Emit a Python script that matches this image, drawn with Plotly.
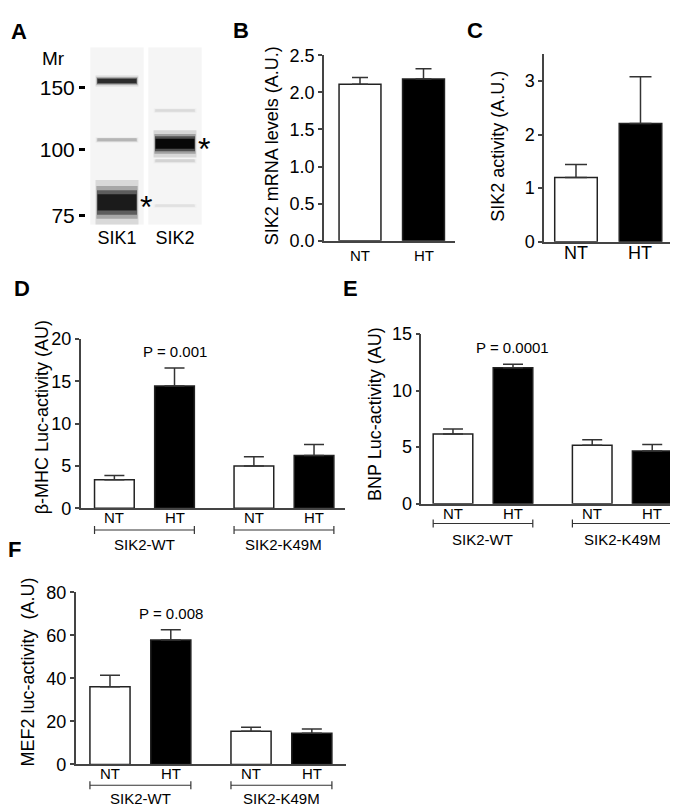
import plotly.graph_objects as go

W, H = 678, 809
FONT = 'Liberation Sans, Arial, sans-serif'

# ---- panel A: western blot (relative migration, 0 = top of lane) ----
lanes = ['SIK1', 'SIK2']
ladder_mr = [150, 100, 75]
ladder_rf = [0.229, 0.577, 0.949]
band_lane = [1, 1, 1, 2, 2, 2, 2]
band_rf = [0.19, 0.522, 0.874, 0.357, 0.544, 0.641, 0.894]
band_thick = [0.028, 0.014, 0.115, 0.012, 0.07, 0.012, 0.01]
band_dark = [0.85, 0.3, 0.92, 0.15, 1.0, 0.18, 0.12]
star_bands = [2, 4]

# ---- panels B, C ----
conds = ['NT', 'HT']
mrna_mean = [2.11, 2.18]
mrna_err = [0.09, 0.14]
act_mean = [1.2, 2.21]
act_err = [0.24, 0.87]

# ---- panels D, E, F ----
groups = ['SIK2-WT', 'SIK2-K49M']
bmhc_mean = [3.38, 14.46, 5.0, 6.23]
bmhc_err = [0.5, 2.14, 1.08, 1.31]
bnp_mean = [6.15, 12.01, 5.17, 4.66]
bnp_err = [0.46, 0.32, 0.49, 0.57]
mef2_mean = [36.1, 57.9, 15.45, 14.5]
mef2_err = [5.4, 4.7, 1.85, 2.0]
p_labels = ['P = 0.001', 'P = 0.0001', 'P = 0.008']


def px_x(v):
    return v / W


def px_y(v):
    return 1 - v / H


def xdom(a, b):
    return [px_x(a), px_x(b)]


def ydom(top, bottom):
    return [px_y(bottom), px_y(top)]


def shade(d):
    v = round(255 * (1 - d))
    return f'rgb({v},{v},{v})'


AXC = '#444'
BAR_W = 0.66
STEP = 2.32

fig = go.Figure()
layout = dict(
    width=W, height=H, margin=dict(l=0, r=0, t=0, b=0),
    plot_bgcolor='white', paper_bgcolor='white', showlegend=False,
    barmode='overlay', font=dict(family=FONT, color='black'),
)
annotations = []
shapes = []


def note(text, x, y, size, angle=0):
    annotations.append(dict(x=px_x(x), y=px_y(y), xref='paper', yref='paper',
                            text=text, textangle=angle, showarrow=False,
                            xanchor='center', yanchor='middle',
                            font=dict(size=size)))


# ---------- A ----------
fig.add_trace(go.Bar(x=[1, 2], y=[1, 1], base=[0, 0], width=0.92,
                     marker=dict(color='#f5f5f5', line=dict(width=0)),
                     xaxis='x', yaxis='y', hoverinfo='skip'))
for i in range(len(band_rf)):
    col = shade(band_dark[i])
    for spread, op, wd in ((2.2, 0.12, 0.74), (1.6, 0.25, 0.71),
                           (1.2, 0.5, 0.69), (0.8, 0.9, 0.67)):
        fig.add_trace(go.Bar(x=[band_lane[i]], y=[band_thick[i] * spread],
                             base=[band_rf[i] - band_thick[i] * spread / 2], width=wd,
                             marker=dict(color=col, opacity=op, line=dict(width=0)),
                             xaxis='x', yaxis='y', hoverinfo='skip'))
layout['xaxis'] = dict(domain=xdom(80, 196), range=[0.5, 2.5], anchor='y',
                       showline=False, showgrid=False, zeroline=False, ticks='',
                       tickvals=[1, 2], ticktext=lanes,
                       tickfont=dict(size=18, family=FONT))
layout['yaxis'] = dict(domain=ydom(30, 212), range=[1, 0], anchor='free',
                       position=px_x(77), showline=False, showgrid=False,
                       zeroline=False, ticks='outside', ticklen=6, tickwidth=3,
                       tickcolor='black', tickvals=ladder_rf,
                       ticktext=[str(m) for m in ladder_mr],
                       tickfont=dict(size=21, family=FONT))
for i in star_bands:
    annotations.append(dict(x=band_lane[i] + 0.34, y=band_rf[i], xref='x', yref='y',
                            text='*', showarrow=False, xanchor='left',
                            yanchor='middle', yshift=-5, xshift=1,
                            font=dict(size=32, family=FONT)))
note('Mr', 45, 42, 19)


# ---------- bar panels ----------
def bar_panel(n, mean, err, pos, xd, yd, xr, yr, ytick, xfont, yfont, capw, label_y):
    fig.add_trace(go.Bar(
        x=pos, y=mean, width=BAR_W, xaxis=f'x{n}', yaxis=f'y{n}',
        marker=dict(color=['white', 'black'] * (len(mean) // 2),
                    line=dict(color='#222', width=1.5)),
        error_y=dict(type='data', array=err, arrayminus=[0] * len(err),
                     symmetric=False, color='#333', thickness=1.5, width=capw),
    ))
    layout[f'xaxis{n}'] = dict(domain=xdom(*xd), range=xr, anchor=f'y{n}',
                               showline=True, linecolor=AXC, linewidth=1.5,
                               showgrid=False, zeroline=False, ticks='',
                               showticklabels=False)
    layout[f'yaxis{n}'] = dict(domain=ydom(*yd), range=yr, anchor=f'x{n}',
                               showline=True, linecolor=AXC, linewidth=1.5,
                               showgrid=False, zeroline=False, ticks='outside',
                               ticklen=4, tickwidth=1.5, tickcolor=AXC,
                               tickvals=ytick, tickfont=dict(size=yfont, family=FONT))
    # condition labels under each bar
    for p, lab in zip(pos, conds * (len(mean) // 2)):
        annotations.append(dict(x=p, y=px_y(label_y), xref=f'x{n}', yref='paper',
                                text=lab, showarrow=False, xanchor='center',
                                yanchor='middle', font=dict(size=xfont)))


bar_panel(2, mrna_mean, mrna_err, [0, 1], (316, 447), (38.3, 228.3),
          [-0.567, 1.496], [0, 2.5], [0, 0.5, 1.0, 1.5, 2.0, 2.5], 15, 18, 8, 244)
layout['yaxis2']['tickformat'] = '.1f'
bar_panel(3, act_mean, act_err, [0, 1], (536, 663), (37.3, 229.3),
          [-0.496, 1.473], [0, 3.5], [0, 1, 2, 3], 18, 18, 11, 241)

grp_pos = [g * STEP + c for g in range(len(groups)) for c in range(len(conds))]
lower = [
    (4, bmhc_mean, bmhc_err, (72.7, 336.7), (329.3, 502.7), [-0.56, 3.83],
     [0, 20], [0, 5, 10, 15, 20], 525, 539.5, 512.5),
    (5, bnp_mean, bnp_err, (413.3, 675), (324, 498), [-0.528, 3.833],
     [0, 15], [0, 5, 10, 15], 518.3, 535, 508.3),
    (6, mef2_mean, mef2_err, (67.7, 338), (589, 765.3), [-0.564, 3.882],
     [0, 80], [0, 20, 40, 60, 80], 786.7, 800.7, 775),
]
for k, (n, mean, err, xd, yd, xr, yr, yt, by, ly, ty) in enumerate(lower):
    bar_panel(n, mean, err, grp_pos, xd, yd, xr, yr, yt, 15, 18, 10, ty)
    # P value above the HT bar of the wild-type group
    annotations.append(dict(x=grp_pos[1], y=mean[1] + err[1], xref=f'x{n}',
                            yref=f'y{n}', text=p_labels[k], showarrow=False,
                            yanchor='bottom', yshift=6, font=dict(size=15)))
    # group brackets
    for g, name in enumerate(groups):
        x0 = grp_pos[2 * g] - BAR_W / 2
        x1 = grp_pos[2 * g + 1] + BAR_W / 2
        line = dict(color='#333', width=1.2)
        shapes.append(dict(type='line', xref=f'x{n}', yref='paper', x0=x0, x1=x1,
                           y0=px_y(by), y1=px_y(by), line=line))
        for xe in (x0, x1):
            shapes.append(dict(type='line', xref=f'x{n}', yref='paper', x0=xe, x1=xe,
                               y0=px_y(by - 4), y1=px_y(by + 4), line=line))
        annotations.append(dict(x=(x0 + x1) / 2, y=px_y(ly), xref=f'x{n}',
                                yref='paper', text=name, showarrow=False,
                                yanchor='middle', font=dict(size=15)))

# y-axis titles
for txt, x, y in [
    ('SIK2 mRNA levels (A.U.)', 263.5, 131),
    ('SIK2 activity (A.U.)', 490, 132),
    ('β-MHC Luc-activity (AU)', 33.5, 410),
    ('BNP Luc-activity (AU)', 367, 406),
    ('MEF2 luc-activity  (A.U)', 20, 671),
]:
    note(txt, x, y, 18, -90)

# panel letters
for txt, x, y in [('A', 11, 14), ('B', 233, 13), ('C', 467, 13),
                  ('D', 13.5, 277.5), ('E', 342.5, 277.5), ('F', 6, 545)]:
    note(f'<b>{txt}</b>', x, y, 22)

layout['annotations'] = annotations
layout['shapes'] = shapes
fig.update_layout(**layout)
fig.write_html('out.html')
